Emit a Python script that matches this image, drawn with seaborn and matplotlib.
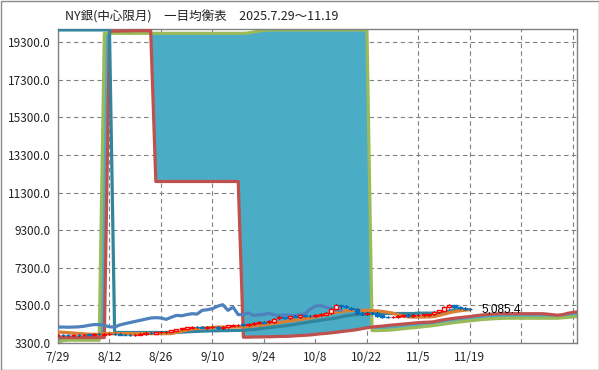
import numpy as np
import matplotlib
matplotlib.use("Agg")
import matplotlib.pyplot as plt
from matplotlib.patches import Rectangle
import seaborn as sns

# ---------------- data ----------------
title = "NY銀(中心限月)　一目均衡表　2025.7.29〜11.19"
tick_labels = ["7/29", "8/12", "8/26", "9/10", "9/24", "10/8", "10/22", "11/5", "11/19", "", ""]
y_ticks = [3300, 5300, 7300, 9300, 11300, 13300, 15300, 17300, 19300]

opens = [3700, 3730, 3710, 3690, 3740, 3720, 3750, 3720, 3770, 3740,
         3760, 3790, 3760, 3740, 3730, 3710, 3740, 3770, 3820, 3780,
         3850, 3870, 3880, 3950, 4020, 4060, 4110, 4150, 4130, 4100,
         4130, 4140, 4080, 4120, 4220, 4240, 4280, 4250, 4300, 4360,
         4410, 4400, 4420, 4600, 4660, 4630, 4720, 4660, 4760, 4750,
         4720, 4790, 4790, 4900, 5120, 5290, 5250, 5180, 5080, 4900,
         4840, 4910, 4880, 4770, 4690, 4650, 4690, 4710, 4770, 4720,
         4770, 4790, 4800, 4830, 4960, 5020, 5200, 5290, 5220, 5170,
         5100]
highs = [3780, 3760, 3750, 3770, 3770, 3780, 3790, 3800, 3810, 3800,
         3830, 3820, 3800, 3780, 3770, 3780, 3810, 3850, 3860, 3900,
         3920, 3940, 4000, 4060, 4110, 4160, 4180, 4190, 4170, 4170,
         4190, 4180, 4180, 4270, 4290, 4310, 4320, 4360, 4410, 4440,
         4450, 4500, 4640, 4720, 4700, 4750, 4760, 4800, 4800, 4790,
         4840, 4870, 4940, 5180, 5360, 5340, 5300, 5230, 5130, 4930,
         4940, 4950, 4920, 4800, 4720, 4740, 4760, 4800, 4810, 4820,
         4840, 4850, 4860, 4990, 5070, 5240, 5360, 5330, 5260, 5200,
         5140]
lows = [3660, 3670, 3650, 3660, 3680, 3690, 3690, 3700, 3720, 3710,
        3730, 3720, 3700, 3690, 3670, 3680, 3710, 3740, 3760, 3750,
        3820, 3840, 3850, 3910, 3990, 4030, 4080, 4090, 4070, 4060,
        4090, 4040, 4050, 4090, 4180, 4210, 4220, 4220, 4260, 4320,
        4340, 4360, 4380, 4560, 4590, 4590, 4650, 4630, 4700, 4690,
        4690, 4750, 4760, 4850, 5090, 5180, 5150, 5060, 4840, 4790,
        4790, 4820, 4700, 4600, 4610, 4600, 4640, 4680, 4690, 4700,
        4720, 4740, 4750, 4780, 4910, 4990, 5150, 5150, 5100, 5060,
        5040]
closes = [3720, 3700, 3690, 3730, 3710, 3740, 3720, 3760, 3750, 3770,
          3790, 3760, 3730, 3720, 3700, 3740, 3780, 3810, 3800, 3860,
          3880, 3900, 3960, 4020, 4070, 4120, 4140, 4130, 4110, 4140,
          4150, 4080, 4150, 4230, 4250, 4270, 4260, 4320, 4370, 4400,
          4380, 4460, 4590, 4670, 4640, 4710, 4690, 4760, 4740, 4730,
          4800, 4830, 4890, 5120, 5300, 5240, 5200, 5120, 4890, 4850,
          4900, 4870, 4750, 4670, 4660, 4700, 4720, 4760, 4740, 4780,
          4800, 4810, 4820, 4950, 5030, 5200, 5290, 5200, 5150, 5120,
          5085.4]

tenkan = [19960, 19960, 19960, 19960, 19960, 19960, 19960, 19960, 19960, 19960,
          19960, 3850, 3850, 3850, 3850, 3850, 3850, 3850, 3850, 3850,
          3850, 3850, 3850, 3860, 3870, 3880, 3900, 3910, 3920, 3930,
          3940, 3940, 3950, 3950, 3960, 3960, 3970, 3990, 4010, 4040,
          4080, 4110, 4140, 4170, 4200, 4240, 4280, 4330, 4370, 4420,
          4460, 4500, 4540, 4580, 4620, 4680, 4740, 4780, 4800, 4820,
          4840, 4860, 4860, 4860, 4860, 4860, 4860, 4860, 4860, 4860,
          4880, 4880, 4880, 4880, 4880, 4950, 5000, 5050, 5070, 5070,
          5070]
kijun = [3870, 3860, 3840, 3820, 3800, 3780, 3760, 3750, 3750, 3790,
         3790, 3790, 3790, 3790, 3790, 3790, 3790, 3790, 3790, 3790,
         3790, 3790, 3790, 3850, 3920, 3980, 4030, 4060, 4080, 4100,
         4120, 4140, 4140, 4140, 4140, 4140, 4150, 4170, 4200, 4230,
         4260, 4300, 4340, 4380, 4420, 4460, 4500, 4540, 4580, 4620,
         4680, 4740, 4800, 4860, 4920, 4960, 5000, 5020, 5030, 5030,
         5030, 5020, 5000, 4970, 4930, 4880, 4800, 4720, 4680, 4670,
         4670, 4670, 4680, 4700, 4760, 4830, 4900, 4960, 5000, 5040,
         5070]
chikou = [4140, 4140, 4130, 4140, 4150, 4180, 4230, 4270, 4270, 4230,
          4150, 4140, 4250, 4320, 4380, 4440, 4500, 4560, 4620, 4640,
          4620, 4550, 4660, 4760, 4740, 4800, 4850, 4830, 5030, 5060,
          5120, 5250, 5330, 5030, 5200, 4800, 4810, 4890, 4760, 4790,
          4810, 4870, 4780, 4760, 4790, 4770, 4760, 4800, 4850, 5100,
          5250, 5290, 5200, 5130, 5060, 5030]
span_a = [3580, 3580, 3580, 3580, 3580, 3580, 3580, 3580, 3580, 3580,
          19880, 19900, 19900, 19910, 19910, 19920, 19920, 19920, 19920,
          11890, 11890, 11890, 11890, 11890, 11890, 11890, 11890, 11890,
          11890, 11890, 11890, 11890, 11890, 11890, 11890, 11890,
          3600, 3600, 3610, 3610, 3620, 3620, 3630, 3640, 3640, 3650,
          3670, 3690, 3700, 3720, 3750, 3780, 3800, 3830, 3860, 3900,
          3930, 3960, 4000, 4050, 4100, 4140, 4170, 4190, 4220, 4250,
          4270, 4300, 4320, 4350, 4370, 4390, 4400, 4420, 4480, 4530,
          4570, 4610, 4640, 4670, 4700, 4740, 4770, 4800, 4820, 4840,
          4850, 4850, 4850, 4850, 4850, 4850, 4850, 4850, 4850, 4830,
          4800, 4770, 4800, 4870, 4920, 4950]
span_b = [3320, 3420, 3440, 3440, 3440, 3440, 3440, 3440, 3440,
          19780, 19780, 19780, 19780, 19780, 19780, 19780, 19780, 19780, 19780,
          19780, 19780, 19780, 19780, 19780, 19780, 19780, 19780, 19780, 19780,
          19780, 19780, 19780, 19780, 19780, 19780, 19780, 19780,
          19800, 19850, 19900, 19940, 19960,
          19960, 19960, 19960, 19960, 19960, 19960, 19960, 19960, 19960, 19960,
          19960, 19960, 19960, 19960, 19960, 19960, 19960, 19960, 19960,
          3950, 3950, 3960, 3970, 3990, 4020, 4050, 4080, 4100, 4130,
          4160, 4190, 4220, 4260, 4300, 4340, 4380, 4410, 4440, 4470,
          4500, 4530, 4550, 4570, 4590, 4600, 4610, 4610, 4610, 4610,
          4610, 4610, 4610, 4610, 4610, 4610, 4610, 4630, 4650, 4680,
          4700]
last_label = "5,085.4"

# ---------------- style ----------------
sns.set_style("white")
plt.rcParams["font.family"] = ["Noto Sans CJK JP", "DejaVu Sans"]

W, H = 599, 370
fig = plt.figure(figsize=(W / 100, H / 100), dpi=100)
ax = fig.add_axes([58 / W, 1 - 343 / H, (577 - 58) / W, (343 - 29) / H])

x_price = np.arange(len(closes))
x_cloud = np.arange(len(span_a))
x_chikou = np.arange(len(chikou))

# cloud
ax.fill_between(x_cloud, span_a, span_b, color="#4BACC6", lw=0, zorder=1)
lw = 2.3
sns.lineplot(x=x_cloud, y=span_b, color="#9BBB59", lw=lw, ax=ax, sort=False,
             estimator=None, zorder=2)
sns.lineplot(x=x_cloud, y=span_a, color="#C0504D", lw=lw, ax=ax, sort=False,
             estimator=None, zorder=3)
sns.lineplot(x=x_price, y=tenkan, color="#31859C", lw=lw, ax=ax, sort=False,
             estimator=None, zorder=4)
sns.lineplot(x=x_price, y=kijun, color="#DC7F33", lw=lw, ax=ax, sort=False,
             estimator=None, zorder=5)
sns.lineplot(x=x_chikou, y=chikou, color="#4F81BD", lw=lw, ax=ax, sort=False,
             estimator=None, zorder=6)

# candles
o = np.array(opens); c = np.array(closes)
up = c >= o
ax.vlines(x_price, lows, highs, color="black", lw=0.8, zorder=7)
ax.bar(x_price[up], (c - o)[up], bottom=o[up], width=0.8, facecolor="white",
       edgecolor="#FF0000", lw=1.0, zorder=8)
ax.bar(x_price[~up], (o - c)[~up], bottom=c[~up], width=0.8, facecolor="#0070C0",
       edgecolor="#0070C0", lw=1.0, zorder=8)

ax.annotate(last_label, xy=(x_price[-1], closes[-1]), xytext=(8, 0),
            textcoords="offset points", ha="left", va="center", fontsize=8.5,
            family=["Liberation Sans"], color="black", zorder=9)

# axes
ax.set_xlim(0, 100.8)
ax.set_ylim(3290, 20010)
ax.set_xticks(np.arange(0, 101, 10))
ax.set_xticklabels(tick_labels)
ax.set_yticks(y_ticks)
ax.set_yticklabels([f"{v:.1f}" for v in y_ticks])
ax.tick_params(axis="both", length=0, labelsize=8.5, colors="#222222")
ax.tick_params(axis="x", pad=6)
ax.tick_params(axis="y", pad=5)
ax.grid(True, color="#808080", linestyle=(0, (4, 3)), lw=0.8, zorder=0)
ax.set_axisbelow(True)
for s in ax.spines.values():
    s.set_color("#808080")
    s.set_linewidth(1.0)
ax.set_xlabel("")
ax.set_ylabel("")

fig.text(65 / W, 1 - 17 / H, title, ha="left", va="center", fontsize=9,
         color="#222222")
fig.patches.append(Rectangle((0.5 / W, 0.5 / H), (W - 1) / W, (H - 1) / H,
                             transform=fig.transFigure, fill=False,
                             edgecolor="#8C8C8C", lw=1.0))

fig.savefig("out.png", dpi=100)
